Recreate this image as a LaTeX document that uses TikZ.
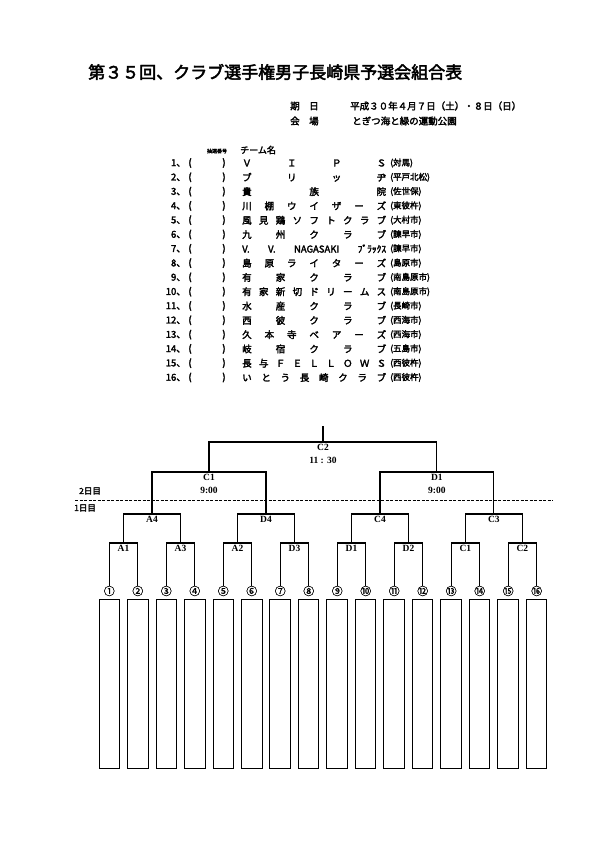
\documentclass[tikz,border=0pt]{standalone}
\usepackage{fontspec}
\setmainfont{Liberation Serif}
\newfontfamily\jpfont[FakeBold=2.6]{Noto Sans CJK JP}
\newfontfamily\jplight[FakeBold=1.2]{Noto Sans CJK JP}
\usetikzlibrary{positioning}
\tikzset{
  every node/.style={inner sep=0pt},
  ttl/.style={font=\jpfont\fontsize{17}{17}\selectfont, anchor=west},
  info/.style={font=\jpfont\fontsize{9.5}{10}\selectfont, anchor=west},
  row/.style={font=\jpfont\fontsize{9.5}{10}\selectfont},
  reg/.style={font=\jpfont\fontsize{8.5}{9}\selectfont, anchor=west},
  mlab/.style={font=\bfseries\fontsize{9.5}{12.5}\selectfont, anchor=north, align=center, yshift=-2.5pt},
  wire/.style={draw, line width=1.1pt},
  finwire/.style={draw, line width=2.2pt},
  leaf/.style={draw, line width=1pt, minimum width=20.5pt, minimum height=169pt},
  circnum/.style={font=\jplight\fontsize{11}{11}\selectfont},
  daylab/.style={font=\jpfont\fontsize{8.5}{9}\selectfont, anchor=west},
  daysep/.style={draw, line width=1pt, dash pattern=on 3pt off 1.5pt},
}
\begin{document}
\begin{tikzpicture}[x=1pt,y=-1pt]
\useasboundingbox (0,0) rectangle (595,842);

% ---------------- heading ----------------
\node[ttl] (title) at (88,72) {第３５回、クラブ選手権男子長崎県予選会組合表};
\node[info] (datek) at (290,106) {期　日};
\node[info] (date) at (350,106) {平成３０年４月７日（土）・８日（日）};
\node[info] (venuek) at (290,121) {会　場};
\node[info] (venue) at (352,121) {とぎつ海と緑の運動公園};

% ---------------- team list ----------------
\node[font=\jpfont\fontsize{5}{5}\selectfont] (drawno) at (217,151) {抽選番号};
\node[info, font=\jpfont\fontsize{9}{9}\selectfont] (teamh) at (240,150) {チーム名};

\foreach \i/\team/\reg in {
  1/Ｖ Ｉ Ｐ Ｓ/対馬,
  2/ブ リ ッ ヂ/平戸北松,
  3/貴 族 院/佐世保,
  4/川 棚 ウ イ ザ ー ズ/東彼杵,
  5/風 見 鶏 ソ フ ト ク ラ ブ/大村市,
  6/九 州 ク ラ ブ/諫早市,
  7/V. V. NAGASAKI ﾌﾞﾗｯｸｽ/諫早市,
  8/島 原 ラ イ タ ー ズ/島原市,
  9/有 家 ク ラ ブ/南島原市,
  10/有 家 新 切 ド リ ー ム ス/南島原市,
  11/水 産 ク ラ ブ/長崎市,
  12/西 彼 ク ラ ブ/西海市,
  13/久 本 寺 ベ ア ー ズ/西海市,
  14/岐 宿 ク ラ ブ/五島市,
  15/長 与 Ｆ Ｅ Ｌ Ｌ Ｏ Ｗ Ｓ/西彼杵,
  16/い と う 長 崎 ク ラ ブ/西彼杵}{
  \pgfmathsetmacro{\ry}{163+14.3*(\i-1)}
  \node[row, anchor=east] (no\i) at (186,\ry) {\i、};
  \node[row] (po\i) at (190,\ry) {(};
  \node[row] (pc\i) at (224,\ry) {)};
  \node[row, anchor=west] (tm\i) at (242,\ry) {\makebox[144pt][s]{\team}};
  \node[reg] (rg\i) at (390,\ry) {(\reg)};
}

% ---------------- leaves ----------------
\foreach \i/\c in {1/①,2/②,3/③,4/④,5/⑤,6/⑥,7/⑦,8/⑧,9/⑨,10/⑩,11/⑪,12/⑫,13/⑬,14/⑭,15/⑮,16/⑯}{
  \node[circnum] (n\i) at ({109.3+28.49*(\i-1)},591) {\c};
  \node[leaf, anchor=north] (b\i) at ({109.3+28.49*(\i-1)},599) {};
}

% ---------------- bracket ----------------
% day 1, first games
\foreach \k/\lab in {1/A1,2/A3,3/A2,4/D3,5/D1,6/D2,7/C1,8/C2}{
  \coordinate (m\k) at ({109.3+28.49*(2*\k-1.5)},543);
  \node[mlab] (lm\k) at (m\k) {\lab};
  \pgfmathtruncatemacro{\a}{2*\k-1}
  \pgfmathtruncatemacro{\b}{2*\k}
  \draw[wire] (n\a.north) |- (m\k) -| (n\b.north);
}
% day 1, second games
\foreach \j/\lab in {1/A4,2/D4,3/C4,4/C3}{
  \coordinate (q\j) at ({109.3+28.49*(4*\j-2.5)},514);
  \node[mlab] (lq\j) at (q\j) {\lab};
  \pgfmathtruncatemacro{\a}{2*\j-1}
  \pgfmathtruncatemacro{\b}{2*\j}
  \draw[wire] (m\a) |- (q\j) -| (m\b);
}
% day 2
\foreach \j/\lab in {1/C1,2/D1}{
  \coordinate (s\j) at ({109.3+28.49*(8*\j-4.5)},472);
  \node[mlab] (ls\j) at (s\j) {\lab\\9:00};
  \pgfmathtruncatemacro{\a}{2*\j-1}
  \pgfmathtruncatemacro{\b}{2*\j}
  \draw[wire] (q\a) |- (s\j) -| (q\b);
}
\coordinate (fin) at ({109.3+28.49*7.5},442);
\coordinate (top) at ({109.3+28.49*7.5},426);
\node[mlab] (lfin) at (fin) {C2\\11 : 30};
\draw[wire] (s1) |- (fin) -| (s2);
\draw[finwire] (s1 |- fin) -- (s2 |- fin);
\draw[wire] (fin) -- (top);

% ---------------- day line ----------------
\coordinate (dayL) at (75,500);
\coordinate (dayR) at (553,500);
\draw[daysep] (dayL) -- (dayR);
\node[daylab] (day2) at (79,491) {2日目};
\node[daylab] (day1) at (74,508) {1日目};

\end{tikzpicture}
\end{document}
